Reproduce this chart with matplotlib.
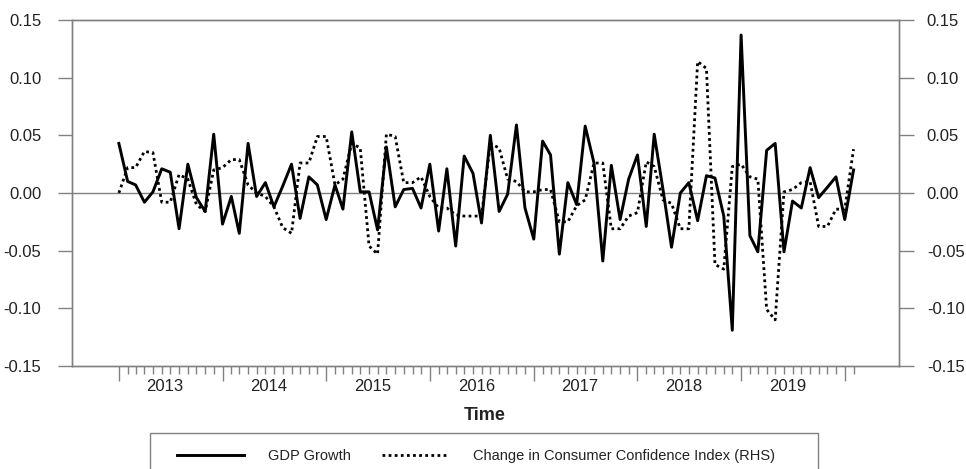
import matplotlib.pyplot as plt
import matplotlib.patches as mpatches
import matplotlib.dates as mdates
import pandas as pd

plt.rcParams['font.family'] = ['Liberation Sans', 'DejaVu Sans']

# monthly observations, Jan 2013 - Feb 2020
months = pd.date_range('2013-01-01', periods=86, freq='MS')

gdp_growth = [
    0.043, 0.010, 0.007, -0.008, 0.001, 0.021, 0.018, -0.031, 0.025, -0.004,
    -0.016, 0.051, -0.027, -0.003, -0.035, 0.043, -0.003, 0.009, -0.012, 0.006,
    0.025, -0.022, 0.014, 0.007, -0.023, 0.007, -0.014, 0.053, 0.001, 0.001,
    -0.032, 0.040, -0.012, 0.003, 0.004, -0.013, 0.025, -0.033, 0.021, -0.046,
    0.032, 0.017, -0.026, 0.050, -0.016, -0.001, 0.059, -0.013, -0.040, 0.045,
    0.033, -0.053, 0.009, -0.010, 0.058, 0.026, -0.059, 0.024, -0.023, 0.012,
    0.033, -0.029, 0.051, 0.003, -0.047, 0.000, 0.009, -0.024, 0.015, 0.013,
    -0.020, -0.119, 0.137, -0.037, -0.051, 0.037, 0.043, -0.051, -0.007, -0.013,
    0.022, -0.004, 0.005, 0.014, -0.023, 0.020,
]

cci_change = [
    0.000, 0.022, 0.022, 0.036, 0.035, -0.008, -0.008, 0.016, 0.012, -0.010,
    -0.016, 0.020, 0.022, 0.029, 0.029, 0.007, 0.000, -0.003, -0.012, -0.030,
    -0.035, 0.026, 0.026, 0.049, 0.049, 0.007, 0.012, 0.043, 0.039, -0.046,
    -0.053, 0.051, 0.049, 0.009, 0.009, 0.014, -0.003, -0.013, -0.013, -0.019,
    -0.020, -0.020, -0.020, 0.043, 0.039, 0.012, 0.010, 0.001, 0.001, 0.003,
    0.003, -0.025, -0.025, -0.011, -0.006, 0.026, 0.026, -0.031, -0.031, -0.020,
    -0.017, 0.027, 0.023, -0.006, -0.009, -0.031, -0.031, 0.114, 0.108, -0.062,
    -0.066, 0.023, 0.025, 0.014, 0.012, -0.101, -0.110, 0.001, 0.003, 0.009,
    0.010, -0.029, -0.029, -0.014, -0.014, 0.038,
]

years = [2013, 2014, 2015, 2016, 2017, 2018, 2019]
yticks = [-0.15, -0.10, -0.05, 0.00, 0.05, 0.10, 0.15]

gray = '#808080'
txt = '#222222'

x = mdates.date2num(months)

fig = plt.figure(figsize=(9.66, 4.69), dpi=100)
ax = fig.add_axes([72 / 966, 1 - 366 / 469, (899 - 72) / 966, (366 - 20) / 469])
ax2 = ax.twinx()

ax.axhline(0, color=gray, lw=1, zorder=1)
l1, = ax.plot(x, gdp_growth, color='black', lw=2.1, zorder=3, label='GDP Growth')
l2, = ax2.plot(x, cci_change, color='black', lw=2, linestyle=(0, (1, 1.2)),
               label='Change in Consumer Confidence Index (RHS)')

for a in (ax, ax2):
    a.set_ylim(-0.15, 0.15)
    a.set_yticks(yticks)
    a.set_yticklabels(['%.2f' % v for v in yticks])
    for s in a.spines.values():
        s.set_color(gray)
        s.set_linewidth(1)

ax.set_xlim(mdates.date2num(pd.Timestamp('2012-07-20')),
            mdates.date2num(pd.Timestamp('2020-07-10')))

# year boundaries (long ticks) and months (short ticks)
ax.set_xticks(x[months.month == 1])
ax.set_xticklabels([])
ax.set_xticks(x, minor=True)
ax.tick_params(axis='x', which='major', length=11, width=1, color=gray)
ax.tick_params(axis='x', which='minor', length=6, width=1, color=gray)
ax.tick_params(axis='y', length=10, width=1, color=gray, pad=12,
               labelsize=12, labelcolor=txt)
ax2.tick_params(axis='y', length=11, width=1, color=gray, pad=9,
                labelsize=12, labelcolor=txt)

# year labels centred between the boundary ticks
sec = ax.secondary_xaxis('bottom')
sec.set_xticks([mdates.date2num(pd.Timestamp(f'{y}-06-13')) for y in years],
               labels=[str(y) for y in years])
sec.tick_params(length=0, pad=9, labelsize=12, labelcolor=txt)
sec.spines['bottom'].set_visible(False)

fig.text(485 / 966, 1 - 415 / 469, 'Time', ha='center', va='center',
         fontsize=13, fontweight='bold', color=txt)

# legend box runs off the bottom of the picture
box = mpatches.Rectangle((150 / 966, -0.05), (818 - 150) / 966, (1 - 433 / 469) + 0.05,
                         transform=fig.transFigure, fill=False, edgecolor=gray, lw=1)
fig.add_artist(box)
fig.legend(handles=[l1, l2], loc='center left',
           bbox_to_anchor=(177 / 966, 1 - 456 / 469), ncol=2, frameon=False,
           fontsize=10.5, handlelength=4.6, handletextpad=1.65, columnspacing=2.1,
           borderpad=0, borderaxespad=0, labelcolor=txt)

fig.savefig('out.png', dpi=100)
